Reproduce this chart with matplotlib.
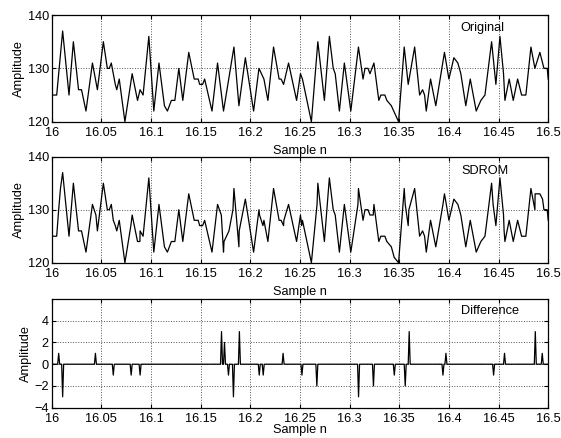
import numpy as np
import matplotlib.pyplot as plt

plt.rcParams['font.family'] = ['Liberation Sans', 'DejaVu Sans']

# original signal (turning points)
orig_x = [16.000, 16.005, 16.011, 16.0174, 16.0218, 16.027, 16.030, 16.0345, 16.041, 16.046,
          16.052, 16.056, 16.058, 16.060, 16.064, 16.0655, 16.068, 16.0737, 16.081, 16.0864,
          16.089, 16.092, 16.0978, 16.1028, 16.108, 16.1135, 16.1165, 16.1205, 16.124, 16.128,
          16.132, 16.138, 16.1435, 16.1475, 16.149, 16.152, 16.154, 16.1614, 16.167, 16.173,
          16.1835, 16.1885, 16.195, 16.2033, 16.2087, 16.2137, 16.2177, 16.2234, 16.229, 16.231,
          16.2335, 16.2385, 16.2466, 16.2505, 16.2525, 16.2615, 16.268, 16.2746, 16.2796, 16.2835,
          16.2855, 16.2897, 16.2947, 16.3012, 16.3089, 16.3135, 16.3155, 16.3185, 16.3205, 16.3245,
          16.3294, 16.3315, 16.3355, 16.3375, 16.342, 16.3493, 16.355, 16.359, 16.3655, 16.3705,
          16.3735, 16.3755, 16.3772, 16.3815, 16.3868, 16.3955, 16.400, 16.405, 16.409, 16.412,
          16.417, 16.4215, 16.4275, 16.4322, 16.4363, 16.443, 16.4473, 16.4514, 16.455, 16.4564,
          16.4607, 16.4648, 16.4692, 16.4732, 16.4775, 16.4826, 16.4866, 16.4916, 16.4957, 16.499,
          16.500]
orig_y = [125, 125, 137, 125, 135, 126, 126, 122, 131, 126,
          135, 130, 130, 131, 127, 126, 128, 120, 129, 124,
          126, 125, 136, 122, 131, 123, 122, 124, 124, 130,
          124, 133, 128, 128, 127, 127, 128, 122, 131, 122,
          134, 123, 132, 122, 130, 128, 124, 134, 128, 128,
          127, 131, 124, 129, 128, 120, 135, 124, 136, 130,
          129, 122, 131, 122, 134, 128, 130, 130, 129, 131,
          124, 125, 125, 124, 123, 120, 134, 127, 134, 125,
          126, 125, 122, 128, 123, 133, 128, 132, 131, 129,
          123, 128, 122, 124, 125, 135, 127, 136, 129, 124,
          128, 124, 128, 125, 125, 134, 130, 133, 130, 130,
          128]

# points where the SDROM output departs from the original (middle panel)
sdrom_fix_x = [16.007, 16.0088, 16.0445, 16.062, 16.0797, 16.0888, 16.1708, 16.1735, 16.1785,
               16.1825, 16.1888, 16.2093, 16.2127, 16.2338, 16.2517, 16.2672, 16.3084, 16.3238,
               16.3449, 16.356, 16.3597, 16.394, 16.3974, 16.4445, 16.4556, 16.4868, 16.4943]
sdrom_fix_y = [130, 134, 129, 128, 127, 124, 129, 124, 126,
               130, 126, 129, 127, 128, 127, 131, 131, 129,
               121, 131, 130, 131, 131, 131, 126, 133, 132]

# difference spikes (bottom panel)
diff_x = [16.007, 16.011, 16.0445, 16.062, 16.0797, 16.0888, 16.1708, 16.1735, 16.1785, 16.1825,
          16.1885, 16.2093, 16.2127, 16.2335, 16.2517, 16.2672, 16.3089, 16.324, 16.3449, 16.356,
          16.3597, 16.394, 16.3974, 16.4445, 16.4556, 16.4866, 16.4943]
diff_v = [1, -3, 1, -1, -1, -1, 3, 2, -1, -3,
          3, -1, -1, 1, -1, -2, -3, -2, -1, -2,
          3, -1, 1, -1, 1, 3, 1]

sx = np.array(orig_x + sdrom_fix_x)
sy = np.array(orig_y + sdrom_fix_y)
order = np.argsort(sx, kind='stable')
sdrom_x, sdrom_y = sx[order], sy[order]

n = np.arange(16000, 16501) / 1000
d = np.zeros_like(n)
for x, v in zip(diff_x, diff_v):
    d[int(round((x - 16) * 1000))] = v

fig = plt.figure(figsize=(5.61, 4.38), dpi=100)
L, W = 0.0922, 0.885
ax1 = fig.add_axes([L, 0.7221, W, 0.2436])
ax2 = fig.add_axes([L, 0.4002, W, 0.2420])
ax3 = fig.add_axes([L, 0.0692, W, 0.2482])

ax1.plot(orig_x, orig_y, 'k-', lw=0.9)
ax2.plot(sdrom_x, sdrom_y, 'k-', lw=0.9)
ax3.plot(n, d, 'k-', lw=0.9)

labels = ['Original', 'SDROM', 'Difference']
lab_pos = [(0.8675, 0.878), (0.872, 0.868), (0.882, 0.89)]
xlab_pad = [4, 4, -1]
xt = [16, 16.05, 16.1, 16.15, 16.2, 16.25, 16.3, 16.35, 16.4, 16.45, 16.5]
xtl = ['16', '16.05', '16.1', '16.15', '16.2', '16.25', '16.3', '16.35', '16.4', '16.45', '16.5']

for ax, lab, pos, lp in zip([ax1, ax2, ax3], labels, lab_pos, xlab_pad):
    ax.set_xlim(16, 16.5)
    ax.set_xticks(xt)
    ax.set_xticklabels(xtl)
    ax.grid(True, linestyle=':', color='#555555', lw=0.7)
    ax.tick_params(direction='in', top=True, right=True, labelsize=9.2, length=3)
    ax.tick_params(axis='x', pad=4)
    ax.tick_params(axis='y', pad=2)
    ax.set_xlabel('Sample n', fontsize=9.2, labelpad=lp)
    ax.set_ylabel('Amplitude', fontsize=9.2, labelpad=2)
    ax.text(pos[0], pos[1], lab, transform=ax.transAxes, ha='center', va='center', fontsize=9.2)
    for s in ax.spines.values():
        s.set_linewidth(0.9)

for ax in [ax1, ax2]:
    ax.set_ylim(120, 140)
    ax.set_yticks([120, 130, 140])
ax3.set_ylim(-4, 6)
ax3.set_yticks([-4, -2, 0, 2, 4])

plt.savefig('out.png', dpi=100)
